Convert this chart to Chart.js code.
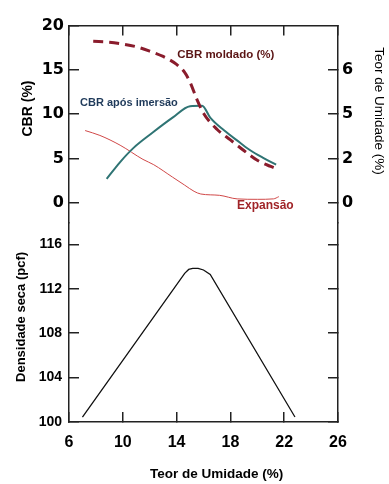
<!DOCTYPE html>
<html><head><meta charset="utf-8">
<script src="https://cdn.jsdelivr.net/npm/chart.js@4.4.1/dist/chart.umd.min.js"></script>
<style>html,body{margin:0;padding:0;background:#fff;overflow:hidden}</style>
</head><body>
<canvas id="c" width="389" height="484" style="display:block;width:389px;height:484px"></canvas>
<script>
// ---- tick labels / axis data ----
const moistureTicks = [6, 10, 14, 18, 22, 26];
const cbrTicks = [0, 5, 10, 15, 20];
const densityTicks = [100, 104, 108, 112, 116];
const rightTickValues = [0, 5, 10, 15];
const rightTickLabels = ['0', '2', '5', '6'];

// ---- series ----
const moldadoX = [7.8, 9.0, 10.0, 11.0, 12.0, 13.0, 14.0, 14.6, 15.0, 15.5, 16.0, 17.0, 18.0, 19.0, 20.0, 21.0, 21.5];
const moldadoY = [18.2, 18.1, 17.9, 17.6, 17.1, 16.5, 15.6, 14.7, 13.6, 11.7, 10.1, 8.3, 7.1, 5.9, 4.8, 4.1, 3.8];

const imersaoX = [8.8, 9.8, 10.8, 12.2, 13.7, 15.0, 15.9, 16.5, 17.5, 18.7, 19.5, 20.4, 21.4];
const imersaoY = [2.7, 4.6, 6.2, 7.9, 9.6, 10.9, 10.95, 9.6, 8.2, 6.8, 5.9, 5.1, 4.3];

const expansaoX = [7.2, 8.3, 9.8, 11.5, 12.3, 13.7, 14.6, 15.3, 15.8, 17.2, 18.5, 20.0, 21.2, 21.6];
const expansaoY = [8.15, 7.6, 6.5, 4.9, 4.3, 2.9, 2.0, 1.3, 1.0, 0.85, 0.45, 0.4, 0.45, 0.7];

const densX = [7.0, 14.6, 14.9, 15.2, 15.6, 16.0, 16.5, 22.8];
const densY = [100.45, 113.4, 113.75, 113.85, 113.85, 113.7, 113.3, 100.45];

const pts = (xs, ys) => xs.map((x, i) => ({x, y: ys[i]}));

// ---- in-plot labels (anchored in data units) ----
const SANS = '"Liberation Sans",Arial,sans-serif';
const inPlotLabels = [
  {text: 'CBR moldado (%)', x: 14.05, y: 16.65, font: 'bold 11.5px ' + SANS, color: '#5a1414'},
  {text: 'CBR após imersão', x: 6.82, y: 11.3, font: 'bold 11px ' + SANS, color: '#1f3a5a'},
  {text: 'Expansão', x: 18.49, y: -0.35, font: 'bold 12px ' + SANS, color: '#a02428'}
];
const labelPlugin = {
  id: 'inPlotLabels',
  afterDatasetsDraw(chart) {
    const ctx = chart.ctx, xs = chart.scales.x, ys = chart.scales.yCBR;
    inPlotLabels.forEach(l => {
      ctx.save();
      ctx.font = l.font; ctx.fillStyle = l.color;
      ctx.textAlign = 'left'; ctx.textBaseline = 'middle';
      ctx.fillText(l.text, xs.getPixelForValue(l.x), ys.getPixelForValue(l.y));
      ctx.restore();
    });
  }
};

const AX = '#222';
const gridIn = {drawOnChartArea: false, drawTicks: true, tickLength: -10, color: AX, lineWidth: 1.5};
const border = {display: true, color: AX, width: 1.5};
const setTicks = vals => s => { s.ticks = vals.map(v => ({value: v})); };

new Chart(document.getElementById('c'), {
  type: 'line',
  data: {
    datasets: [
      {data: pts(moldadoX, moldadoY), yAxisID: 'yCBR', borderColor: '#8a1c2c', borderWidth: 3, borderDash: [10, 6], pointRadius: 0, cubicInterpolationMode: 'monotone', fill: false},
      {data: pts(imersaoX, imersaoY), yAxisID: 'yCBR', borderColor: '#2f7474', borderWidth: 2, pointRadius: 0, cubicInterpolationMode: 'monotone', fill: false},
      {data: pts(expansaoX, expansaoY), yAxisID: 'yCBR', borderColor: '#d04848', borderWidth: 1, pointRadius: 0, cubicInterpolationMode: 'monotone', fill: false},
      {data: pts(densX, densY), yAxisID: 'yDens', borderColor: '#111', borderWidth: 1.3, pointRadius: 0, tension: 0, fill: false}
    ]
  },
  options: {
    responsive: false, animation: false, devicePixelRatio: 1,
    layout: {padding: 0},
    plugins: {legend: {display: false}, tooltip: {enabled: false}},
    scales: {
      x: {
        type: 'linear', position: 'bottom', min: 6, max: 26,
        afterBuildTicks: setTicks(moistureTicks),
        afterFit: s => { s.height = 62; },
        grid: gridIn, border,
        ticks: {color: '#000', padding: 21, maxRotation: 0, font: {family: SANS, size: 16, weight: 'bold'}},
        title: {display: true, text: '       Teor de Umidade (%)', color: '#000', padding: {top: 0, bottom: 2}, font: {family: SANS, size: 13.5, weight: 'bold'}}
      },
      xTop: {
        type: 'linear', position: 'top', min: 6, max: 26,
        afterBuildTicks: setTicks(moistureTicks),
        afterFit: s => { s.height = 22; },
        grid: gridIn, border,
        ticks: {display: false}
      },
      yDens: {
        type: 'linear', position: 'left', stack: 'L', stackWeight: 201, min: 100, max: 117.96,
        afterBuildTicks: setTicks(densityTicks),
        afterFit: s => { s.width = 69; },
        grid: gridIn, border,
        ticks: {color: '#000', padding: 17, font: {family: SANS, size: 14, weight: 'bold'}},
        title: {display: true, text: '   Densidade seca (pcf)', color: '#000', padding: {top: 14, bottom: 0}, font: {family: SANS, size: 13, weight: 'bold'}}
      },
      yCBR: {
        type: 'linear', position: 'left', stack: 'L', stackWeight: 199, min: -2.235, max: 20,
        afterBuildTicks: setTicks(cbrTicks),
        afterFit: s => { s.width = 69; },
        grid: gridIn, border,
        ticks: {color: '#000', padding: 15, font: {family: '"DejaVu Sans",sans-serif', size: 16, weight: 'bold'}},
        title: {display: true, text: '        CBR (%)', color: '#000', padding: {top: 20, bottom: 0}, font: {family: SANS, size: 14, weight: 'bold'}}
      },
      yR: {
        type: 'linear', position: 'right', stack: 'R', stackWeight: 199, min: -2.235, max: 20,
        afterBuildTicks: setTicks(rightTickValues),
        afterFit: s => { s.width = 51; },
        grid: gridIn, border,
        ticks: {color: '#000', padding: 14, font: {family: '"DejaVu Sans",sans-serif', size: 16, weight: 'bold'},
                callback: v => rightTickLabels[rightTickValues.indexOf(v)]},
        title: {display: true, text: 'Teor de Umidade (%)       ', color: '#000', padding: {top: 2, bottom: 0}, font: {family: SANS, size: 13.5}}
      },
      yRD: {
        type: 'linear', position: 'right', stack: 'R', stackWeight: 201, min: 100, max: 117.96,
        afterBuildTicks: setTicks(densityTicks),
        afterFit: s => { s.width = 51; },
        grid: gridIn, border,
        ticks: {display: false}
      }
    }
  },
  plugins: [labelPlugin]
});
</script>
</body></html>
